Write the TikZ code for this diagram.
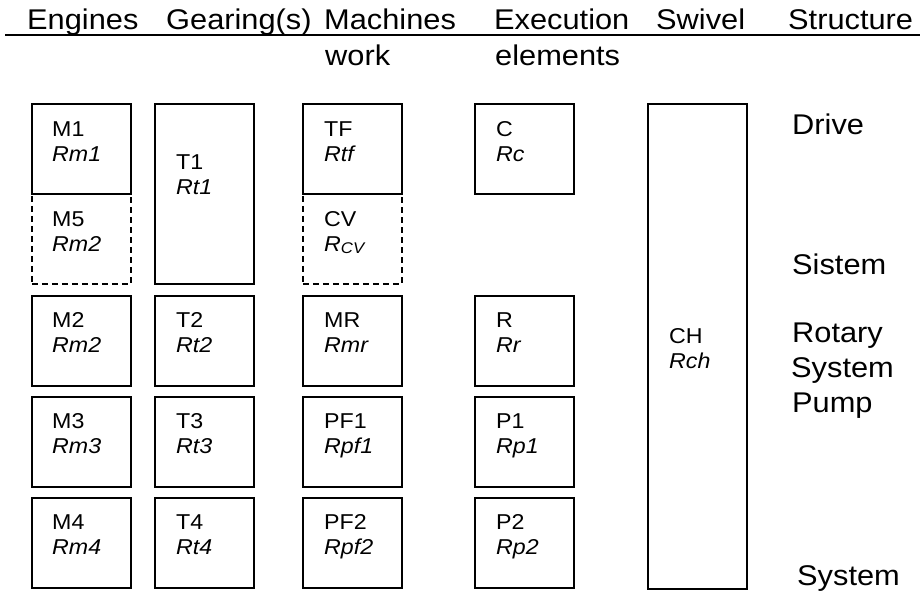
\documentclass[tikz,border=0pt]{standalone}
\usepackage{fontspec}
\setmainfont{Liberation Sans}[FakeStretch=1.08]
\begin{document}
\begin{tikzpicture}[x=1pt,y=-1pt,
  box/.style={draw=black, line width=1.6pt, rectangle, inner sep=0pt, anchor=north west, minimum width=99pt, minimum height=90pt},
  dbox/.style={box, dashed, dash pattern=on 6pt off 4pt},
  bt/.style={anchor=base west, inner sep=0pt, font=\fontsize{21.5}{24}\selectfont},
  bti/.style={bt, font=\fontsize{21.5}{24}\selectfont\itshape},
  hd/.style={anchor=base west, inner sep=0pt, font=\fontsize{28.5}{32}\selectfont},
  lb/.style={anchor=base west, inner sep=0pt, font=\fontsize{28.5}{32}\selectfont}]
\useasboundingbox (0,0) rectangle (922,590);
% header
\node[hd] (hEng) at (27,29) {Engines};
\node[hd] (hGear) at (166,29) {Gearing(s)};
\node[hd] (hMach) at (324,29) {Machines};
\node[hd] (hExec) at (494,29) {Execution};
\node[hd] (hSwiv) at (656,29) {Swivel};
\node[hd] (hStr) at (788,29) {Structure};
\coordinate (hl1) at (5,35);
\coordinate (hl2) at (920,35);
\draw[line width=1.6pt] (hl1) -- (hl2);
\node[hd] (hWork) at (325,65) {work};
\node[hd] (hElem) at (495,65) {elements};
% column M
\node[box] (M1) at (31,103) {};
\node[dbox] (M5) at (31,193) {};
\node[box] (M2) at (31,295) {};
\node[box] (M3) at (31,396) {};
\node[box] (M4) at (31,497) {};
% column T
\node[box, minimum height=180pt] (T1) at (154,103) {};
\node[box] (T2) at (154,295) {};
\node[box] (T3) at (154,396) {};
\node[box] (T4) at (154,497) {};
% column machines
\node[box] (TF) at (302,103) {};
\node[dbox] (CV) at (302,193) {};
\node[box] (MR) at (302,295) {};
\node[box] (PF1) at (302,396) {};
\node[box] (PF2) at (302,497) {};
% column execution
\node[box] (C) at (474,103) {};
\node[box] (R) at (474,295) {};
\node[box] (P1) at (474,396) {};
\node[box] (P2) at (474,497) {};
% swivel
\node[box, minimum height=485pt] (CH) at (647,103) {};
% texts
\node[bt] (tM1) at (52,136) {M1};   \node[bti] (rM1) at (52,161) {Rm1};
\node[bt] (tM5) at (52,226) {M5};   \node[bti] (rM5) at (52,251) {Rm2};
\node[bt] (tM2) at (52,327) {M2};   \node[bti] (rM2) at (52,352) {Rm2};
\node[bt] (tM3) at (52,428) {M3};   \node[bti] (rM3) at (52,453) {Rm3};
\node[bt] (tM4) at (52,529) {M4};   \node[bti] (rM4) at (52,554) {Rm4};
\node[bt] (tT1) at (176,169) {T1};  \node[bti] (rT1) at (176,194) {Rt1};
\node[bt] (tT2) at (176,327) {T2};  \node[bti] (rT2) at (176,352) {Rt2};
\node[bt] (tT3) at (176,428) {T3};  \node[bti] (rT3) at (176,453) {Rt3};
\node[bt] (tT4) at (176,529) {T4};  \node[bti] (rT4) at (176,554) {Rt4};
\node[bt] (tTF) at (324,136) {TF};  \node[bti] (rTF) at (324,161) {Rtf};
\node[bt] (tCV) at (324,226) {CV};  \node[bti] (rCV) at (324,251) {R\raisebox{-2pt}{\fontsize{15.5}{15}\selectfont CV}};
\node[bt] (tMR) at (324,327) {MR};  \node[bti] (rMR) at (324,352) {Rmr};
\node[bt] (tPF1) at (324,428) {PF1}; \node[bti] (rPF1) at (324,453) {Rpf1};
\node[bt] (tPF2) at (324,529) {PF2}; \node[bti] (rPF2) at (324,554) {Rpf2};
\node[bt] (tC) at (496,136) {C};    \node[bti] (rC) at (496,161) {Rc};
\node[bt] (tR) at (496,327) {R};    \node[bti] (rR) at (496,352) {Rr};
\node[bt] (tP1) at (496,428) {P1};  \node[bti] (rP1) at (496,453) {Rp1};
\node[bt] (tP2) at (496,529) {P2};  \node[bti] (rP2) at (496,554) {Rp2};
\node[bt] (tCH) at (669,343) {CH};  \node[bti] (rCH) at (669,368) {Rch};
% right labels
\node[lb] (lDrive) at (792,134) {Drive};
\node[lb] (lSistem) at (792,274) {Sistem};
\node[lb] (lRot) at (792,342) {Rotary};
\node[lb] (lSys1) at (791,377) {System};
\node[lb] (lPump) at (792,412) {Pump};
\node[lb] (lSys2) at (797,585) {System};
\end{tikzpicture}
\end{document}
